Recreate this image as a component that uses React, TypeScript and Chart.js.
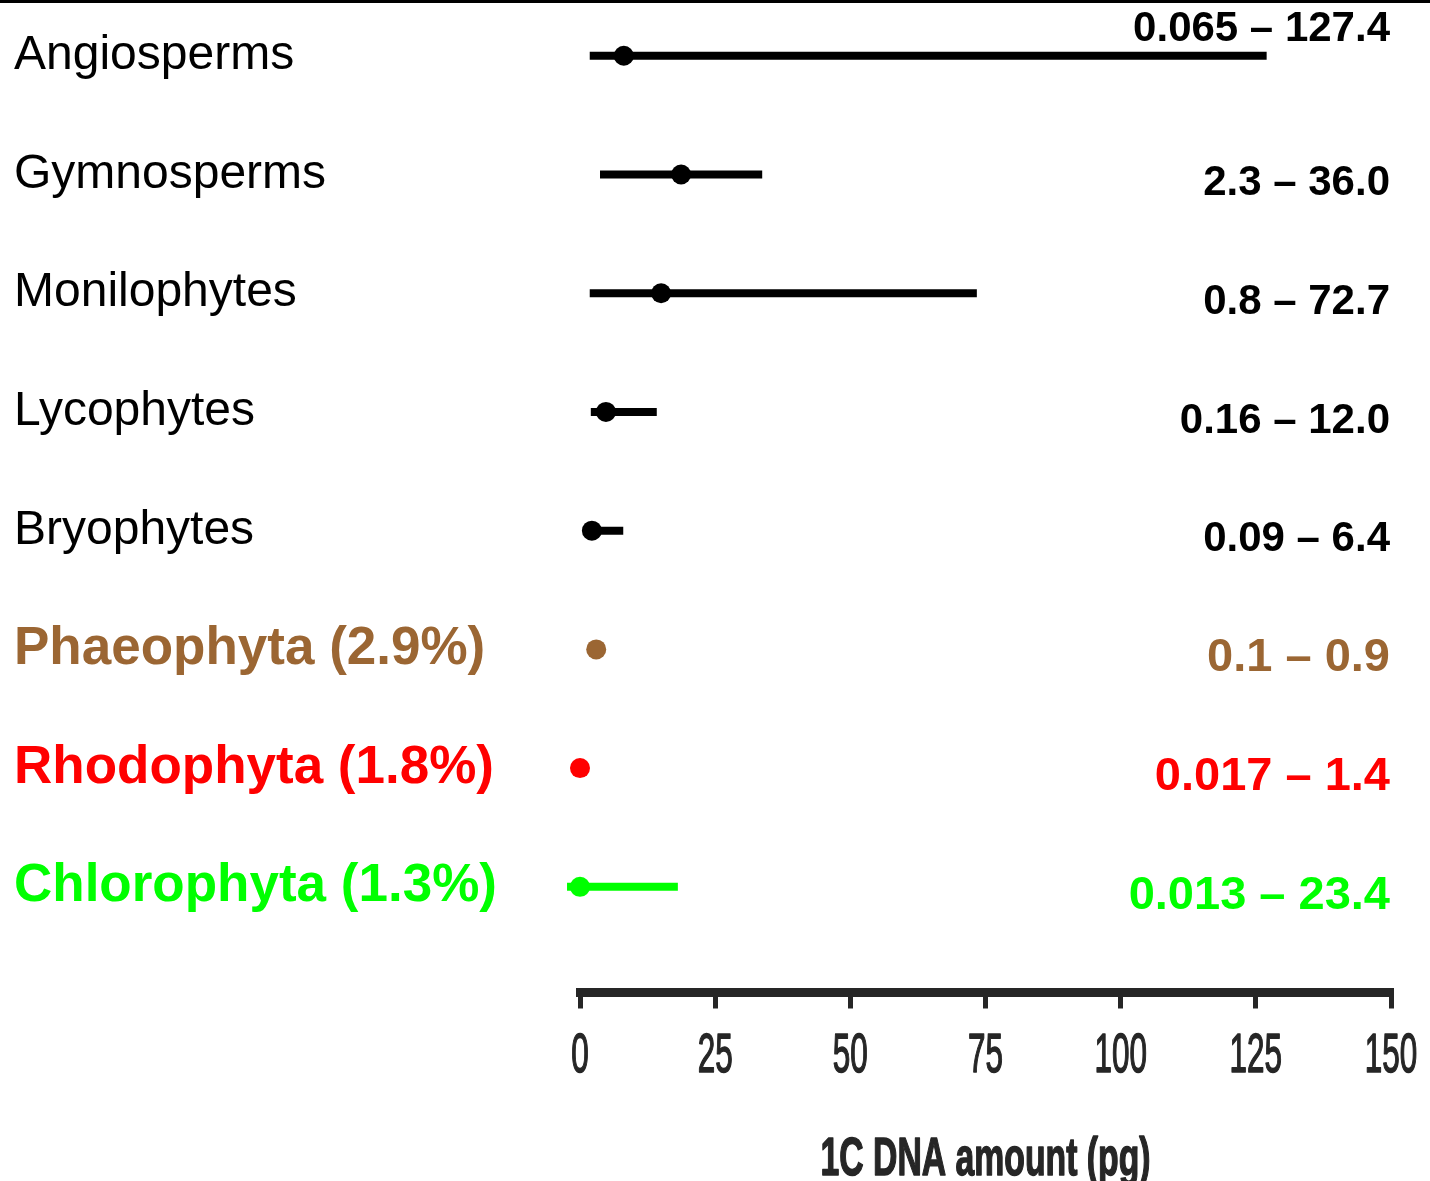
import React, { useEffect, useRef } from 'react';
import { Chart, registerables } from 'chart.js';

Chart.register(...registerables);

// ---- data ----
const categories = [
  'Angiosperms',
  'Gymnosperms',
  'Monilophytes',
  'Lycophytes',
  'Bryophytes',
  'Phaeophyta (2.9%)',
  'Rhodophyta (1.8%)',
  'Chlorophyta (1.3%)',
];
const rangeLabels = [
  '0.065 – 127.4',
  '2.3 – 36.0',
  '0.8 – 72.7',
  '0.16 – 12.0',
  '0.09 – 6.4',
  '0.1 – 0.9',
  '0.017 – 1.4',
  '0.013 – 23.4',
];
const rangeMin = [1.8, 3.7, 1.8, 2.0, 2.2, 3.0, 0, -2.4];
const rangeMax = [127.0, 33.7, 73.4, 14.2, 8.0, 3.0, 0, 18.1];
const typicalValue = [8.1, 18.7, 15.0, 4.8, 2.2, 3.0, 0, 0];
const xTickValues = [0, 25, 50, 75, 100, 125, 150];
const axisTitle = '1C DNA amount (pg)';

// ---- styles ----
const rowColors = ['#000000', '#000000', '#000000', '#000000', '#000000', '#9B6633', '#FF0000', '#00FF00'];
const algaeStart = 5;
const axisColor = '#262626';
const FAMILY = '"Liberation Sans", Arial, Helvetica, sans-serif';
const NARROW = '"Liberation Sans Narrow", "Liberation Sans", Arial, sans-serif';

const overlayPlugin = {
  id: 'overlayText',
  afterDatasetsDraw(chart: any) {
    const { ctx, chartArea, scales } = chart;
    const x = scales.x;
    const y = scales.y;
    ctx.save();

    // range labels on the right
    ctx.textAlign = 'right';
    ctx.textBaseline = 'middle';
    const right = chartArea.right - 1;
    rangeLabels.forEach((t, i) => {
      ctx.font = i >= algaeStart ? `bold 47px ${FAMILY}` : `bold 42px ${FAMILY}`;
      ctx.fillStyle = rowColors[i];
      const w = ctx.measureText(t).width;
      const rowY = y.getPixelForValue(i);
      const barEnd = x.getPixelForValue(rangeMax[i]);
      const yy = barEnd + 12 > right - w ? rowY - 26 : rowY + 9;
      ctx.fillText(t, right, yy);
    });

    // condensed x tick labels
    ctx.fillStyle = axisColor;
    ctx.strokeStyle = axisColor;
    ctx.font = `56px ${NARROW}`;
    ctx.textAlign = 'center';
    ctx.textBaseline = 'alphabetic';
    ctx.lineJoin = 'round';
    const sx = 17.5 / ctx.measureText('0').width;
    const tickBase = x.top + 79.5;
    x.ticks.forEach((tick: any) => {
      const px = x.getPixelForValue(tick.value);
      const label = tick.label != null ? String(tick.label) : String(tick.value);
      ctx.save();
      ctx.translate(px, tickBase);
      ctx.scale(sx, 1);
      ctx.lineWidth = 1.5;
      ctx.fillText(label, 0, 0);
      ctx.strokeText(label, 0, 0);
      ctx.restore();
    });

    // axis title, condensed bold
    ctx.font = `bold 54px ${NARROW}`;
    const tw = ctx.measureText(axisTitle).width;
    const tsx = 330 / tw;
    const cx = (chartArea.left + chartArea.right) / 2;
    ctx.save();
    ctx.translate(cx, x.top + 182.5);
    ctx.scale(tsx, 1);
    ctx.lineWidth = 1.5;
    ctx.fillText(axisTitle, 0, 0);
    ctx.strokeText(axisTitle, 0, 0);
    ctx.restore();

    ctx.restore();
  },
};

export default function App() {
  const ref = useRef<HTMLCanvasElement>(null);

  useEffect(() => {
    document.body.style.margin = '0';
    const canvas = ref.current;
    if (!canvas) return;

    const rangeDatasets = categories.map((c, i) => ({
      label: c,
      data: [
        { x: rangeMin[i], y: i },
        { x: rangeMax[i], y: i },
      ],
      showLine: true,
      borderColor: rowColors[i],
      backgroundColor: rowColors[i],
      borderWidth: 8,
      borderCapStyle: 'butt',
      pointRadius: 0,
      pointHoverRadius: 0,
      clip: false,
      order: 1,
    }));

    const dotDataset = {
      label: 'typical',
      data: typicalValue.map((v, i) => ({ x: v, y: i })),
      showLine: false,
      pointRadius: 10,
      pointHoverRadius: 10,
      pointBackgroundColor: rowColors,
      pointBorderColor: rowColors,
      pointBorderWidth: 0,
      clip: false,
      order: 0,
    };

    const chart = new Chart(canvas, {
      type: 'scatter',
      data: { datasets: [dotDataset as any, ...(rangeDatasets as any[])] },
      options: {
        animation: false,
        responsive: false,
        events: [],
        layout: { padding: { left: 14, right: 39, top: 0, bottom: 0 } },
        plugins: {
          legend: { display: false },
          tooltip: { enabled: false },
        },
        scales: {
          x: {
            type: 'linear',
            position: 'bottom',
            min: 0,
            max: 150,
            afterBuildTicks: (s: any) => {
              s.ticks = xTickValues.map((v) => ({ value: v }));
            },
            afterFit: (s: any) => {
              s.height = 188.5;
            },
            ticks: { display: false },
            grid: {
              display: true,
              drawOnChartArea: false,
              drawTicks: true,
              tickLength: 16,
              lineWidth: 5,
              tickWidth: 5,
              color: axisColor,
              tickColor: axisColor,
            },
            border: { display: true, width: 9, color: axisColor },
          },
          y: {
            type: 'linear',
            position: 'left',
            reverse: true,
            min: -0.36,
            max: 7.89,
            afterBuildTicks: (s: any) => {
              s.ticks = categories.map((_, i) => ({ value: i }));
            },
            afterFit: (s: any) => {
              s.width = 566;
            },
            ticks: {
              autoSkip: false,
              crossAlign: 'far',
              padding: 0,
              callback: (_v: any, index: number) => categories[index] ?? '',
              color: (ctx: any) => rowColors[ctx.index] ?? '#000',
              font: (ctx: any) =>
                ctx.index >= algaeStart
                  ? { family: FAMILY, size: 53, weight: 'bold', lineHeight: 0.02 }
                  : { family: FAMILY, size: 48, weight: 'normal', lineHeight: 0.02 },
            },
            grid: { display: false },
            border: { display: false },
          },
        },
      },
      plugins: [overlayPlugin],
    } as any);

    return () => {
      chart.destroy();
    };
  }, []);

  return (
    <div style={{ width: 1430, height: 1178, borderTop: '3px solid #000', background: '#fff' }}>
      <canvas ref={ref} width={1430} height={1178} style={{ display: 'block' }} />
    </div>
  );
}
